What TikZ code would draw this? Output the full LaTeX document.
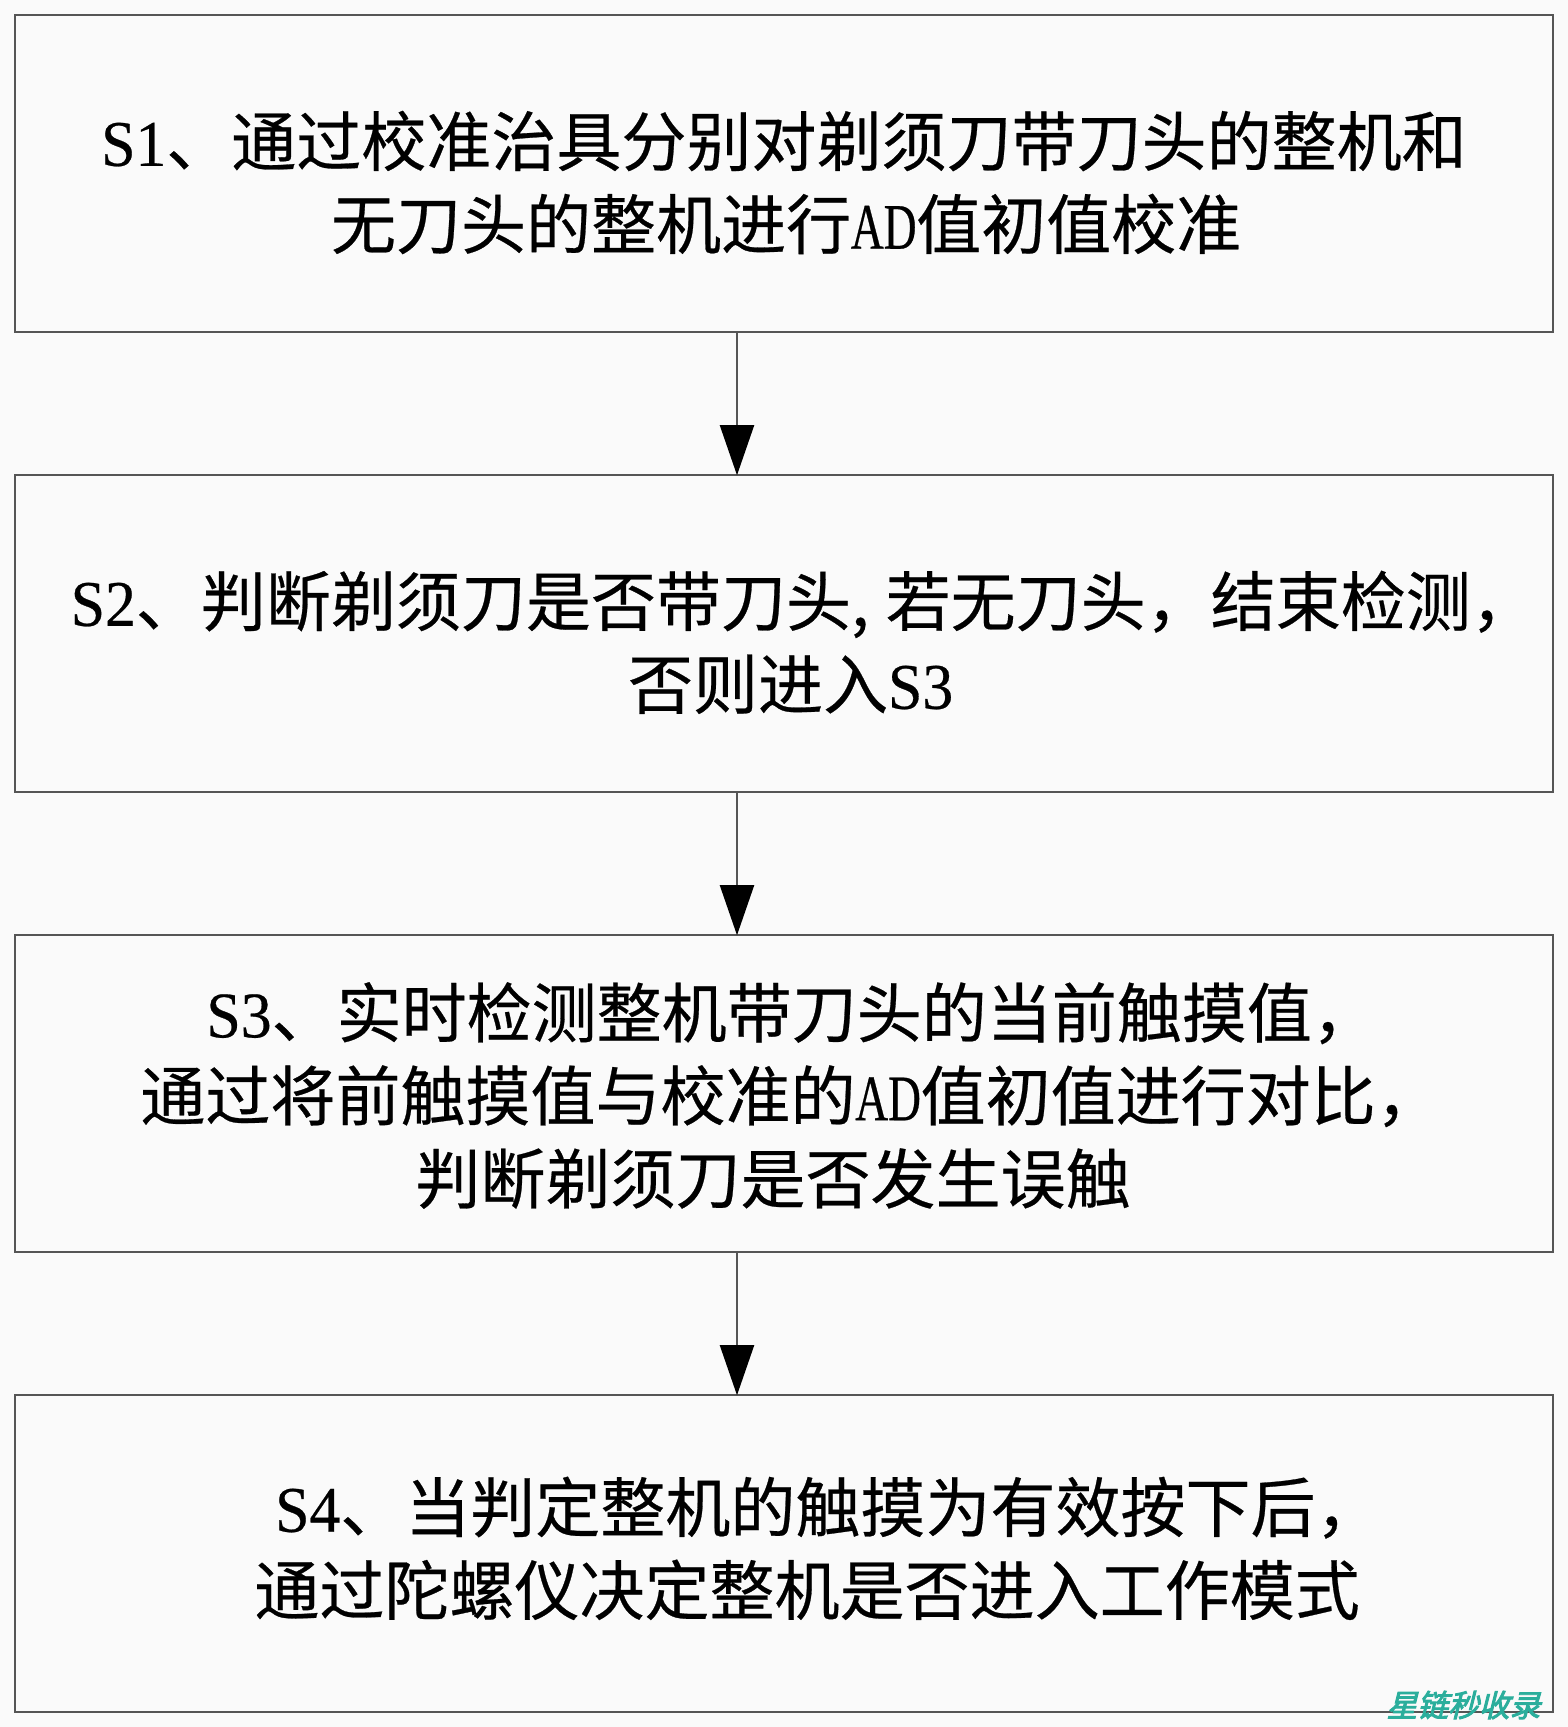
\documentclass[tikz,border=0pt]{standalone}
\usepackage{fontspec}
\setmainfont[FakeBold=0.4]{Noto Sans CJK SC}
\newfontfamily\latfont[FakeStretch=0.95,FakeBold=0.4]{Liberation Serif}
\newfontfamily\capfont[FakeStretch=0.7,FakeBold=0.4]{Liberation Serif}
\newfontfamily\markfont[FakeSlant=0.25,FakeBold=3]{Noto Sans CJK SC}
\newcommand{\lat}[1]{\makebox[1em]{\latfont #1}}
\newcommand{\cpl}[1]{\makebox[1em]{\capfont #1}}
\newcommand{\steptext}[2]{\raisebox{#1}[0pt][0pt]{\begin{tabular}{@{}c@{}}#2\end{tabular}}}
\usetikzlibrary{positioning,arrows.meta}
\definecolor{paper}{HTML}{FAFAFA}
\definecolor{edge}{HTML}{555555}
\definecolor{stamp}{HTML}{2BAE9C}

\begin{document}
\begin{tikzpicture}[node distance =9.2cm ,on grid ,
    stepbox/.style={rectangle,draw=edge,line width=0.05cm,minimum width=30.76cm,
    minimum height=6.34cm,font=\fontsize{37}{47.2}\selectfont},
    flow/.style={draw=edge,line width=0.04cm,shorten >=-0.03cm,-{Triangle[width=0.68cm,length=1cm,color=black,fill=black]}}
    ]
\fill[paper] (0,0) rectangle (31.36,34.54);
\useasboundingbox (0,0) rectangle (31.36,34.54);
\node[stepbox] (s1) at (15.68,31.07) {\steptext{-16pt}{\lat{S1}、通过校准治具分别对剃须刀带刀头的整机和\\\hspace*{2.5pt}无刀头的整机进行\cpl{AD}值初值校准}};
\node[stepbox,below=of s1] (s2) {\steptext{-16pt}{\hspace*{22pt}\lat{S2}、判断剃须刀是否带刀头,\hspace{9.4pt}若无刀头，结束检测，\\\hspace*{7.5pt}否则进入\lat{S3}}};
\node[stepbox,below=of s2] (s3) {\steptext{-12pt}{\hspace*{8.8pt}\lat{S3}、实时检测整机带刀头的当前触摸值，\\\hspace*{7.5pt}通过将前触摸值与校准的\cpl{AD}值初值进行对比，\\\hspace*{-12.5pt}判断剃须刀是否发生误触}};
\node[stepbox,below=of s3] (s4) {\steptext{-8pt}{\hspace*{50pt}\lat{S4}、当判定整机的触摸为有效按下后，\\\hspace*{26.3pt}通过陀螺仪决定整机是否进入工作模式}};
\draw[flow] ([xshift=-0.94cm]s1.south) -- ([xshift=-0.94cm]s2.north);
\draw[flow] ([xshift=-0.94cm]s2.south) -- ([xshift=-0.94cm]s3.north);
\draw[flow] ([xshift=-0.94cm]s3.south) -- ([xshift=-0.94cm]s4.north);
\node[text=stamp,font=\markfont\fontsize{17.5}{17.5}\selectfont] (mark) at (29.27,0.44) {星链秒收录};
\end{tikzpicture}
\end{document}
